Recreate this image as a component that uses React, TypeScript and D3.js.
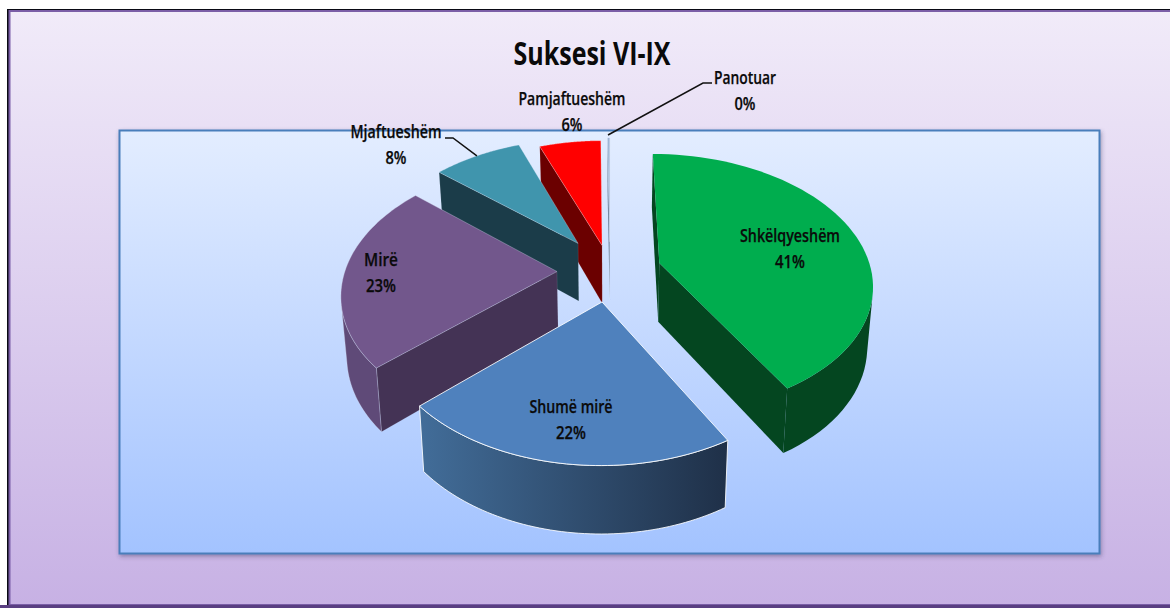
import React from "react";
import * as d3 from "d3";

const categories = ["Shkëlqyeshëm", "Shumë mirë", "Mirë", "Mjaftueshëm", "Pamjaftueshëm", "Panotuar"];
const values = [41.7, 21.5, 23.1, 8, 5.5, 0.2];
const percentLabels = ["41%", "22%", "23%", "8%", "6%", "0%"];
const explosions = [0.243, 0.236, 0.25, 0.272, 0.21, 0.236];
const topColors = ["#00ad4e", "#4f81bd", "#72578c", "#4095ad", "#ff0000", "#9db4d4"];
const wallColors = ["#044620", "#2c4a6c", "#443355", "#1b3c49", "#6b0000", "#5b6f8c"];
const rimColors = ["#044620", "url(#blueRim)", "#5f4a78", "#2a6577", "#8a0000", "#5b6f8c"];
const edgeColors = ["none", "#ffffff", "#dfe9f8", "#dfe9f8", "#ffd9d9", "#dfe9f8"];
const edgeOpacity = [0, 0.85, 0.3, 0.3, 0.3, 0.3];
// draw order, back of the pie first
const drawOrder = [5, 4, 3, 2, 0, 1];
const labelCenters = [[790, 250], [571, 421], [381, 274], [396, 146], [572, 113], [745, 92]];
const labelWidths = [100, 83, 34, 91, 107, 62];
const percentWidths = [30, 30, 30, 21, 21, 21];

const WIDTH = 1170;
const HEIGHT = 608;
const center = [610, 271];
const radius = 212;
const tilt = 128;
const perspective = 0.153;
const depth = 59;
const bottomShrink = 0.978;

const xScale = d3.scaleLinear().domain([-1, 1]).range([center[0] - radius, center[0] + radius]);
const yScale = d3.scaleLinear().domain([-1, 1]).range([center[1] - tilt, center[1] + tilt]);

type Pt = [number, number];
const project = (X: number, Y: number, bottom = false): Pt => {
  const s = 1 / (1 - perspective * Y);
  const d = bottom ? bottomShrink : 1;
  return [xScale(X * s * d), yScale(Y * s * d) + (bottom ? depth * s : 0)];
};

const area = (pts: Pt[]) => {
  let sum = 0;
  pts.forEach((p, i) => {
    const q = pts[(i + 1) % pts.length];
    sum += p[0] * q[1] - q[0] * p[1];
  });
  return sum / 2;
};

const line = d3.line<Pt>();
const closed = (pts: Pt[]) => line(pts) + "Z";

const pie = d3.pie<number>().sort(null).value(d => d);
const arcs = pie(values);

const buildSlice = (i: number) => {
  const a = arcs[i];
  const mid = (a.startAngle + a.endAngle) / 2;
  const ox = explosions[i] * Math.sin(mid);
  const oy = -explosions[i] * Math.cos(mid);
  const world = d3.range(0, 61).map(k => {
    const t = a.startAngle + ((a.endAngle - a.startAngle) * k) / 60;
    return [ox + Math.sin(t), oy - Math.cos(t)] as Pt;
  });
  const top = (w: Pt) => project(w[0], w[1]);
  const bot = (w: Pt) => project(w[0], w[1], true);
  const apex: Pt = [ox, oy];
  const wall = (p: Pt, q: Pt) => [top(p), top(q), bot(q), bot(p)] as Pt[];

  const walls = [wall(apex, world[0]), wall(world[60], apex)].filter(q => area(q) < 0);
  const visible = world.map((w, k) => k < 60 && area(wall(w, world[k + 1])) < 0);
  const first = visible.indexOf(true);
  const last = visible.lastIndexOf(true);
  const rim: Pt[] = first < 0 ? [] : [
    ...world.slice(first, last + 2).map(top),
    ...world.slice(first, last + 2).map(bot).reverse(),
  ];
  return { walls, rim, face: [top(apex), ...world.map(top)] as Pt[], edgeMid: top(world[30]) };
};

const slices = categories.map((_, i) => buildSlice(i));

const FONT = "'Open Sans', sans-serif";

export default function App() {
  const leaderTeal: Pt[] = [slices[3].edgeMid, [453, 138], [445, 138]];
  const leaderZero: Pt[] = [[608, 135], [703, 83], [712, 83]];

  return (
    <svg
      width={WIDTH}
      height={HEIGHT}
      style={{ position: "absolute", left: 0, top: 0 }}
    >
      <defs>
        <linearGradient id="pageBg" x1="0" y1="0" x2="0" y2="1">
          <stop offset="0" stopColor="#f1ebf9" />
          <stop offset="1" stopColor="#c7b1e4" />
        </linearGradient>
        <linearGradient id="plotBg" x1="0" y1="0" x2="0" y2="1">
          <stop offset="0" stopColor="#e3edff" />
          <stop offset="1" stopColor="#a3c3ff" />
        </linearGradient>
        <linearGradient id="blueRim" x1="0" y1="0" x2="1" y2="0">
          <stop offset="0" stopColor="#426d99" />
          <stop offset="1" stopColor="#1f3048" />
        </linearGradient>
        <filter id="plotShadow" x="-2%" y="-2%" width="104%" height="104%">
          <feDropShadow dx="1" dy="2" stdDeviation="2" floodColor="#3a3a60" floodOpacity="0.45" />
        </filter>
      </defs>

      <rect x={7} y={9} width={WIDTH} height={HEIGHT} fill="#0a0a14" />
      <rect x={9.5} y={11} width={WIDTH} height={HEIGHT - 14} fill="url(#pageBg)" stroke="#7b5ea7" strokeWidth={2} />
      <rect x={0} y={605} width={WIDTH} height={3} fill="#5a3f82" />

      <rect
        x={119.5}
        y={130.5}
        width={980}
        height={423}
        fill="url(#plotBg)"
        stroke="#4a7ebb"
        strokeWidth={2}
        filter="url(#plotShadow)"
      />

      <text
        x={592}
        y={65}
        textAnchor="middle"
        fontFamily={FONT}
        fontWeight={700}
        fontSize={33}
        textLength={157}
        lengthAdjust="spacingAndGlyphs"
        fill="#0a0a0a"
      >
        Suksesi VI-IX
      </text>

      {drawOrder.map(i => {
        const s = slices[i];
        return (
          <g key={categories[i]}>
            {s.walls.map((w, k) => (
              <path key={k} d={closed(w)} fill={wallColors[i]} stroke={edgeColors[i]} strokeOpacity={edgeOpacity[i] * 0.5} strokeWidth={0.7} />
            ))}
            {s.rim.length > 0 && (
              <path
                d={closed(s.rim)}
                fill={rimColors[i]}
                stroke={edgeColors[i]}
                strokeOpacity={edgeOpacity[i]}
                strokeWidth={1}
              />
            )}
            <path
              d={closed(s.face)}
              fill={topColors[i]}
              stroke={edgeColors[i]}
              strokeOpacity={edgeOpacity[i]}
              strokeWidth={1}
            />
          </g>
        );
      })}

      <path d={line(leaderTeal) || ""} fill="none" stroke="#111" strokeWidth={1.5} />
      <path d={line(leaderZero) || ""} fill="none" stroke="#111" strokeWidth={1.5} />

      {categories.map((c, i) => (
        <g key={c} fontFamily={FONT} fontWeight={600} fontSize={18} fill="#0a0a0a" stroke="#0a0a0a" strokeWidth={0.25} textAnchor="middle">
          <text
            x={labelCenters[i][0]}
            y={labelCenters[i][1] - 8}
            textLength={labelWidths[i]}
            lengthAdjust="spacingAndGlyphs"
          >
            {c}
          </text>
          <text
            x={labelCenters[i][0]}
            y={labelCenters[i][1] + 18}
            textLength={percentWidths[i]}
            lengthAdjust="spacingAndGlyphs"
          >
            {percentLabels[i]}
          </text>
        </g>
      ))}
    </svg>
  );
}
